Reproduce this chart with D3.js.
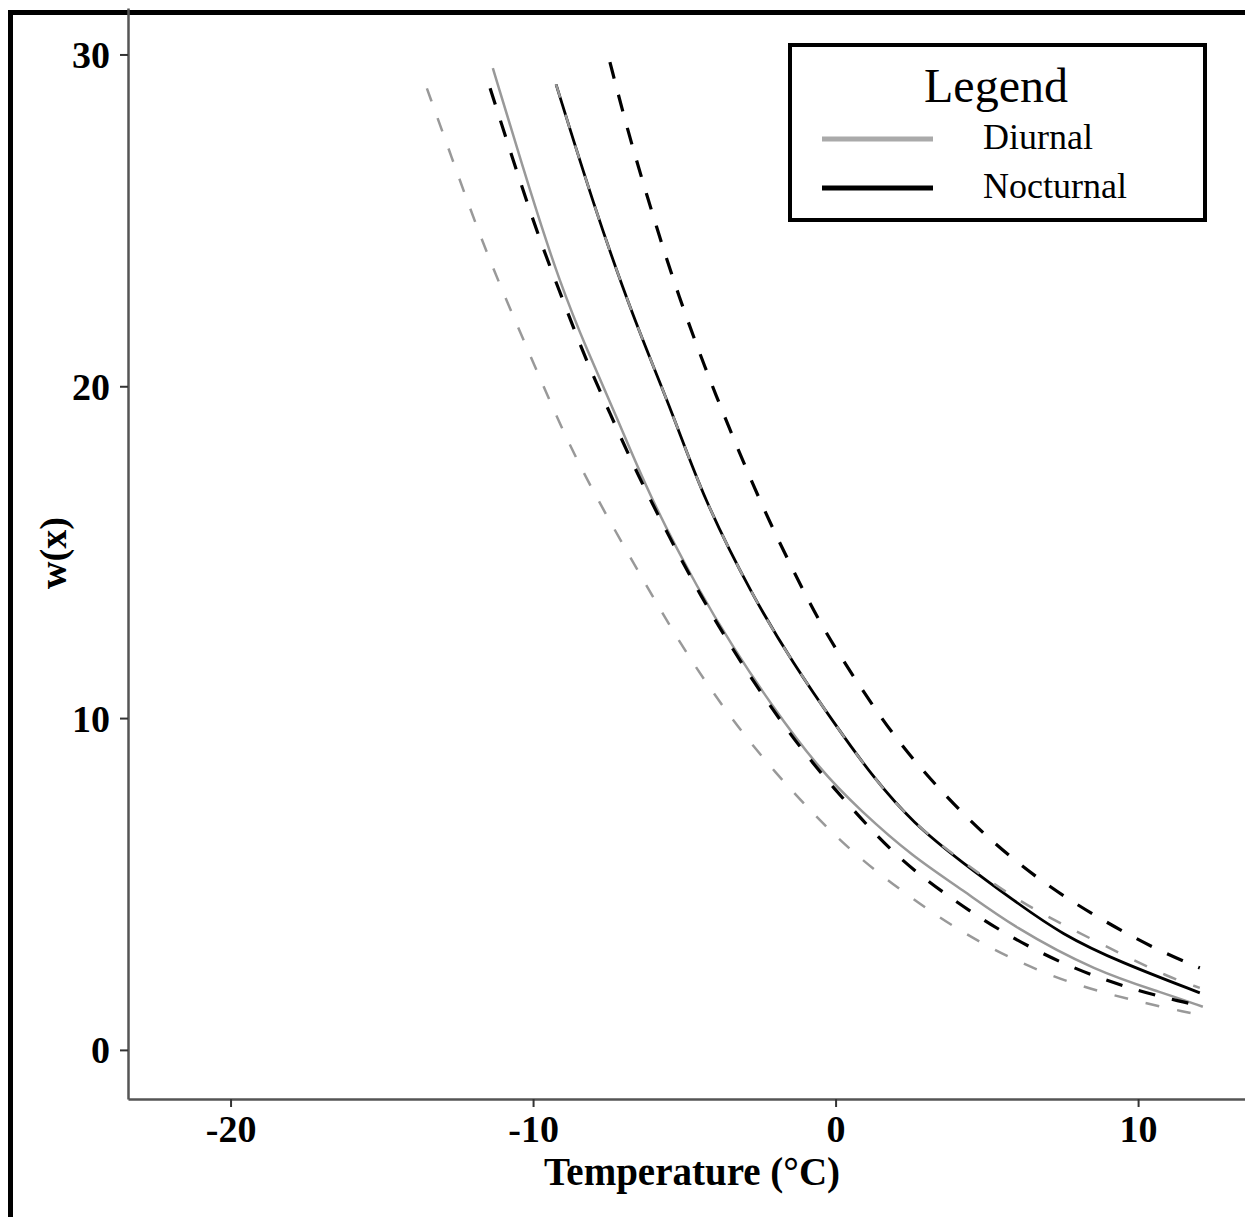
<!DOCTYPE html>
<html>
<head>
<meta charset="utf-8">
<script src="https://cdn.jsdelivr.net/npm/d3@7"></script>
<style>
  body { margin: 0; background: #fff; }
  svg { display: block; }
  text { font-family: "Liberation Serif", "Times New Roman", serif; }
</style>
</head>
<body>
<div id="chart"></div>
<script>
// values: temperature (°C) and w(x)
const diurnalT     = [-11.33, -10.01, -9.11, -8.22, -7.23, -6.14, -4.48, -3.39, -2.17, -0.52, 0.80, 2.55, 4.21, 5.86, 8.64, 10.82, 12.14];
const diurnalW     = [29.59, 25.61, 23.11, 21.09, 19.07, 16.66, 13.77, 12.14, 10.45, 8.44, 7.23, 5.82, 4.82, 3.71, 2.35, 1.72, 1.30];

const diurnalLowT  = [-13.51, -12.68, -11.92, -11.10, -10.21, -9.35, -8.45, -7.36, -6.30, -5.25, -4.06, -2.73, -1.18, 0.37, 2.12, 3.87, 5.66, 7.68, 9.73, 11.71, 12.14];
const diurnalLowW  = [28.98, 26.87, 24.94, 23.05, 21.18, 19.34, 17.57, 15.76, 14.07, 12.41, 10.76, 9.13, 7.53, 6.09, 4.82, 3.71, 2.80, 2.02, 1.51, 1.11, 1.05];

const diurnalHighT = [-9.24, -8.02, -6.70, -5.38, -4.39, -2.73, -1.41, 0.04, 1.23, 2.55, 4.21, 5.86, 7.31, 9.39, 10.98, 12.04];
const diurnalHighW = [29.10, 25.52, 22.08, 19.19, 16.66, 13.65, 11.66, 9.73, 8.23, 6.84, 5.66, 4.60, 3.86, 2.92, 2.20, 1.87];

const nocturnalT     = [-9.24, -8.02, -6.70, -5.38, -4.39, -2.73, -1.41, 0.04, 1.23, 2.55, 4.21, 5.86, 7.51, 9.39, 12.04];
const nocturnalW     = [29.10, 25.52, 22.08, 19.19, 16.66, 13.65, 11.66, 9.73, 8.23, 6.84, 5.63, 4.52, 3.46, 2.65, 1.72];

const nocturnalLowT  = [-11.42, -9.94, -9.11, -8.35, -7.46, -6.57, -5.48, -4.48, -3.39, -2.27, -0.95, 0.57, 2.12, 3.88, 5.53, 7.41, 9.49, 11.54, 12.14];
const nocturnalLowW  = [28.98, 24.77, 22.84, 21.00, 19.19, 17.38, 15.43, 13.71, 12.05, 10.49, 8.83, 7.23, 5.72, 4.52, 3.53, 2.62, 1.90, 1.42, 1.33];

const nocturnalHighT = [-7.46, -6.86, -6.24, -5.58, -4.88, -4.09, -3.26, -2.34, -1.41, -0.45, 0.70, 1.96, 3.38, 5.00, 6.85, 8.67, 10.62, 12.04];
const nocturnalHighW = [29.77, 27.66, 25.76, 23.80, 21.93, 20.03, 18.17, 16.21, 14.46, 12.74, 11.09, 9.40, 7.89, 6.39, 5.03, 3.98, 3.01, 2.47];

const xTicks = [-20, -10, 0, 10];
const yTicks = [0, 10, 20, 30];
const legendLabels = ['Diurnal', 'Nocturnal'];

const width = 1245;
const height = 1217;

const svg = d3.select('#chart')
    .append('svg')
        .attr('width', width)
        .attr('height', height);

// thick outer frame (runs off the right and bottom edges)
svg.append('rect')
    .attr('x', 10.5)
    .attr('y', 12.5)
    .attr('width', 1400)
    .attr('height', 1400)
    .attr('fill', 'none')
    .attr('stroke', '#000')
    .attr('stroke-width', 5);

const x = d3.scaleLinear()
    .domain([-23.39, 13.6])
    .range([128, 1247]);

const y = d3.scaleLinear()
    .domain([-1.48, 31.4])
    .range([1099, 8]);

// axes
const xAxis = svg.append('g')
    .attr('transform', `translate(0, ${y.range()[0]})`)
    .call(d3.axisBottom(x).tickValues(xTicks).tickSize(8).tickSizeOuter(0).tickPadding(8)
        .tickFormat(d => d < 0 ? '-' + Math.abs(d) : d));
const yAxis = svg.append('g')
    .attr('transform', `translate(${x.range()[0]}, 0)`)
    .call(d3.axisLeft(y).tickValues(yTicks).tickSize(8).tickSizeOuter(0).tickPadding(10));

[xAxis, yAxis].forEach(ax => {
    ax.select('.domain').attr('stroke', '#555').attr('stroke-width', 2.5);
    ax.selectAll('.tick line').attr('stroke', '#333').attr('stroke-width', 2);
    ax.selectAll('.tick text')
        .attr('fill', '#000')
        .style('font-family', '"Liberation Serif", serif')
        .style('font-weight', 700)
        .style('font-size', '38px');
});
yAxis.selectAll('.tick text').attr('dy', '0.34em');

svg.append('text')
    .attr('x', 692)
    .attr('y', 1185)
    .attr('text-anchor', 'middle')
    .style('font-weight', 700)
    .style('font-size', '39px')
    .text('Temperature (°C)');

svg.append('text')
    .attr('transform', 'translate(66, 553) rotate(-90)')
    .attr('text-anchor', 'middle')
    .style('font-weight', 700)
    .style('font-size', '38px')
    .text('w(x)');

// curves
const line = d3.line()
    .x(d => x(d[0]))
    .y(d => y(d[1]))
    .curve(d3.curveBasis);

const series = [
    {t: diurnalT, w: diurnalW, color: '#999', width: 2.5, dash: null},
    {t: nocturnalT, w: nocturnalW, color: '#000', width: 2.8, dash: null},
    {t: diurnalLowT, w: diurnalLowW, color: '#999', width: 2.5, dash: '14 18'},
    {t: diurnalHighT, w: diurnalHighW, color: '#999', width: 2.5, dash: '14 18'},
    {t: nocturnalLowT, w: nocturnalLowW, color: '#000', width: 3.2, dash: '17 17'},
    {t: nocturnalHighT, w: nocturnalHighW, color: '#000', width: 3.2, dash: '17 17'}
];

svg.append('g')
    .attr('class', 'curves')
    .selectAll('path')
    .data(series)
    .join('path')
        .attr('d', s => line(s.t.map((t, i) => [t, s.w[i]])))
        .attr('fill', 'none')
        .attr('stroke', s => s.color)
        .attr('stroke-width', s => s.width)
        .attr('stroke-dasharray', s => s.dash);

// legend
const legend = svg.append('g').attr('class', 'legend');
legend.append('rect')
    .attr('x', 790)
    .attr('y', 45)
    .attr('width', 415)
    .attr('height', 175)
    .attr('fill', '#fff')
    .attr('stroke', '#000')
    .attr('stroke-width', 4);
legend.append('text')
    .attr('x', 996)
    .attr('y', 102)
    .attr('text-anchor', 'middle')
    .style('font-size', '48px')
    .text('Legend');

const legendColors = ['#aaa', '#000'];
legendLabels.forEach((label, i) => {
    const ly = 139 + i * 49;
    legend.append('line')
        .attr('x1', 822)
        .attr('x2', 933)
        .attr('y1', ly)
        .attr('y2', ly)
        .attr('stroke', legendColors[i])
        .attr('stroke-width', 5);
    legend.append('text')
        .attr('x', 983)
        .attr('y', ly + 10)
        .style('font-size', '36px')
        .text(label);
});
</script>
</body>
</html>
